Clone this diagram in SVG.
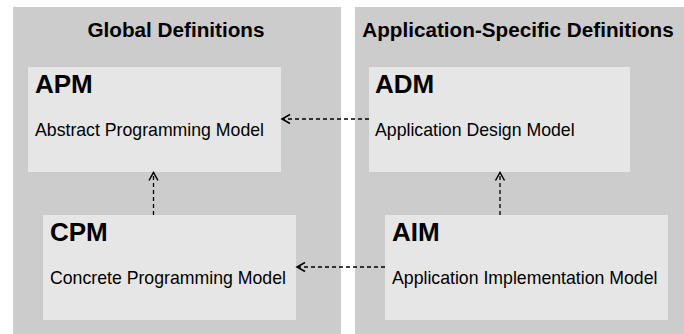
<svg xmlns="http://www.w3.org/2000/svg" width="684" height="334" viewBox="0 0 684 334">
<style>
.panel{fill:#cccccc}
.box{fill:#e6e6e6}
.title{font-family:"Liberation Sans",Arial,sans-serif;font-weight:bold;font-size:20.7px;fill:#000;text-anchor:middle}
.abbr{font-family:"Liberation Sans",Arial,sans-serif;font-weight:bold;font-size:26px;fill:#000}
.desc{font-family:"Liberation Sans",Arial,sans-serif;font-size:17.7px;fill:#000}
.conn{stroke:#000;stroke-width:1.3;stroke-dasharray:4 3;fill:none;marker-end:url(#arr)}
</style>
<defs>
<marker id="arr" markerUnits="userSpaceOnUse" viewBox="-10 -6 12 12" markerWidth="12" markerHeight="12" refX="0" refY="0" orient="auto">
<path d="M-8,-4.5 L0,0 L-8,4.5" fill="none" stroke="#000" stroke-width="1.5" stroke-dasharray="none"/>
</marker>
</defs>
<g id="panel-global">
<rect class="panel" x="13" y="7" width="328" height="327"/>
<text class="title" x="176" y="36.5">Global Definitions</text>
</g>
<g id="panel-app">
<rect class="panel" x="355" y="7" width="329" height="327"/>
<text class="title" x="518" y="36.5">Application-Specific Definitions</text>
</g>
<g id="APM">
<rect class="box" x="28" y="67" width="253" height="105"/>
<text class="abbr" x="35" y="93">APM</text>
<text class="desc" x="35" y="136">Abstract Programming Model</text>
</g>
<g id="ADM">
<rect class="box" x="369" y="67" width="261" height="105"/>
<text class="abbr" x="375" y="93">ADM</text>
<text class="desc" x="375" y="136">Application Design Model</text>
</g>
<g id="CPM">
<rect class="box" x="43" y="215" width="253" height="105"/>
<text class="abbr" x="50" y="241">CPM</text>
<text class="desc" x="50" y="284">Concrete Programming Model</text>
</g>
<g id="AIM">
<rect class="box" x="385" y="215" width="283" height="105"/>
<text class="abbr" x="392" y="241">AIM</text>
<text class="desc" x="392" y="284">Application Implementation Model</text>
</g>
<g id="connectors">
<line class="conn" x1="369" y1="119" x2="282" y2="119"/>
<line class="conn" x1="153.5" y1="215" x2="153.5" y2="172.5"/>
<line class="conn" x1="385" y1="267" x2="297" y2="267"/>
<line class="conn" x1="500" y1="215" x2="500" y2="172.5"/>
</g>
</svg>
